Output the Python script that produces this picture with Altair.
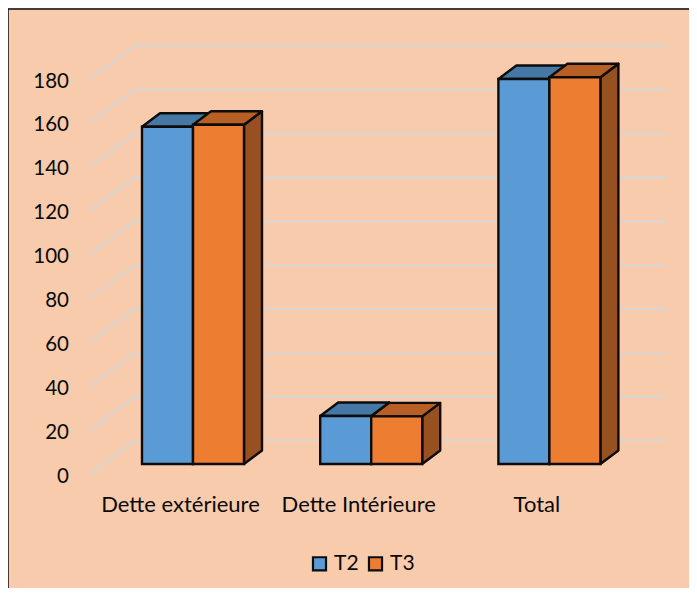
import altair as alt
import pandas as pd

categories = ["Dette extérieure", "Dette Intérieure", "Total"]
series = ["T2", "T3"]
t2_values = [153.7, 21.9, 175.5]
t3_values = [154.6, 21.7, 176.3]
grid_values = list(range(0, 181, 20))

# plot size and scale calibration (pixels per data unit)
W, H = 681, 579
ORIGIN_X, ORIGIN_Y = 8, 9          # page position of plot corner
CAT0_PX, CAT_STEP = 180.0, 178.2   # page x of first category, px per category
ZERO_PY, PX_PER_UNIT = 474.0, 2.194

xdom = [(ORIGIN_X - CAT0_PX) / CAT_STEP, (ORIGIN_X + W - CAT0_PX) / CAT_STEP]
ydom = [(ZERO_PY - (ORIGIN_Y + H)) / PX_PER_UNIT, (ZERO_PY - ORIGIN_Y) / PX_PER_UNIT]
x_scale = alt.Scale(domain=xdom, nice=False, zero=False)
y_scale = alt.Scale(domain=ydom, nice=False, zero=False)

# pseudo-3D projection expressed in data units
BAR_W = 51.0 / CAT_STEP
PLANE_DX, PLANE_DY = 13.0 / CAT_STEP, 10.0 / PX_PER_UNIT
DEPTH_DX, DEPTH_DY = 18.0 / CAT_STEP, 13.5 / PX_PER_UNIT
WALL_DX, WALL_DY = 45.0 / CAT_STEP, 33.5 / PX_PER_UNIT
AXIS_X = (90.0 - CAT0_PX) / CAT_STEP
WALL_END = (668.0 - CAT0_PX) / CAT_STEP

BLUE, ORANGE = "#5B9BD5", "#ED7D31"
TOP = {"T2": "#4578A5", "T3": "#B75F24"}
SIDE = {"T2": "#3F6F9A", "T3": "#97501F"}
EDGE = "#0c0c0c"
TEXT = "#0a0a0a"
FONT = "Lato"
PEACH = "#F8CBAD"
BAR_STROKE = 2.4

front, tops, sides, grid = [], [], [], []
for si, (s, vals) in enumerate(zip(series, [t2_values, t3_values])):
    for ci, v in enumerate(vals):
        x0 = ci + PLANE_DX + (si - 1) * BAR_W
        x1 = x0 + BAR_W
        y0 = PLANE_DY
        y1 = PLANE_DY + v
        front.append(dict(series=s, x0=x0, x1=x1, y0=y0, y1=y1))
        tops.append(dict(series=s, cat=ci, y=y1, xa=x0, xb=x1))
        tops.append(dict(series=s, cat=ci, y=y1 + DEPTH_DY, xa=x0 + DEPTH_DX, xb=x1 + DEPTH_DX))
        sides.append(dict(series=s, cat=ci, x=x1, ya=y0, yb=y1))
        sides.append(dict(series=s, cat=ci, x=x1 + DEPTH_DX, ya=y0 + DEPTH_DY, yb=y1 + DEPTH_DY))
for g in grid_values:
    grid.append(dict(g=g, o=0, x=AXIS_X, y=g))
    grid.append(dict(g=g, o=1, x=AXIS_X + WALL_DX, y=g + WALL_DY))
    grid.append(dict(g=g, o=2, x=WALL_END, y=g + WALL_DY))

front, tops, sides, grid = map(pd.DataFrame, (front, tops, sides, grid))

x_axis = alt.Axis(
    values=[0, 1, 2], title=None, ticks=False, domain=False, grid=False,
    labelExpr="[" + ",".join(f"'{c}'" for c in categories) + "][datum.value]",
    labelFont=FONT, labelFontSize=22, labelColor=TEXT, labelPadding=0,
    offset=-(ORIGIN_Y + H - 494), labelFlush=False, labelOverlap=False, labelLimit=300,
)
y_axis = alt.Axis(
    values=grid_values, title=None, ticks=False, domain=False, grid=False,
    labelFont=FONT, labelFontSize=20.5, labelColor=TEXT, labelPadding=0, labelOffset=2,
    offset=-(68.5 - ORIGIN_X), labelFlush=False, labelOverlap=False,
)
X = lambda f: alt.X(f, scale=x_scale, axis=x_axis, title=None)
Y = lambda f: alt.Y(f, scale=y_scale, axis=y_axis, title=None)

grid_layer = alt.Chart(grid).mark_line(color="#D9D5D2", strokeWidth=2.2).encode(
    x=X("x:Q"), y=Y("y:Q"), detail="g:N", order="o:Q",
)

# frame: only the top and left edges are inside the picture
frame_top = alt.Chart(pd.DataFrame({"a": [0]})).mark_rule(color=EDGE, strokeWidth=1.5).encode(
    x=alt.value(0), x2=alt.value(W), y=alt.value(0)
)
frame_left = alt.Chart(pd.DataFrame({"a": [0]})).mark_rule(color=EDGE, strokeWidth=1.5).encode(
    x=alt.value(0), y=alt.value(0), y2=alt.value(H)
)

layers = [grid_layer, frame_top, frame_left]
for s in series[::-1]:
    layers.append(
        alt.Chart(sides[sides.series == s]).mark_area(
            color=SIDE[s], stroke=EDGE, strokeWidth=BAR_STROKE, orient="vertical", strokeJoin="round"
        ).encode(x=X("x:Q"), y=Y("ya:Q"), y2="yb:Q", detail="cat:N")
    )
for s in series:
    layers.append(
        alt.Chart(tops[tops.series == s]).mark_area(
            color=TOP[s], stroke=EDGE, strokeWidth=BAR_STROKE, orient="horizontal", strokeJoin="round"
        ).encode(y=Y("y:Q"), x=X("xa:Q"), x2="xb:Q", detail="cat:N")
    )
layers.append(
    alt.Chart(front).mark_rect(stroke=EDGE, strokeWidth=BAR_STROKE).encode(
        x=X("x0:Q"), x2="x1:Q", y=Y("y0:Q"), y2="y1:Q",
        color=alt.Color(
            "series:N",
            scale=alt.Scale(domain=series, range=[BLUE, ORANGE]),
            legend=alt.Legend(
                title=None, orient="none", legendX=309 - ORIGIN_X, legendY=553 - ORIGIN_Y,
                direction="horizontal", symbolType="square", symbolSize=170,
                symbolStrokeColor=EDGE, symbolStrokeWidth=2.2, symbolOpacity=1,
                labelFont=FONT, labelFontSize=21, labelColor=TEXT,
                labelOffset=4, columnPadding=5, symbolOffset=0,
            ),
        ),
    )
)

chart = (
    alt.layer(*layers)
    .resolve_scale(x="shared", y="shared")
    .properties(
        width=W, height=H,
        autosize=alt.AutoSizeParams(type="none"),
        padding={"left": 0, "top": 1, "right": 0, "bottom": 0},
        background=PEACH,
    )
    .configure_view(fill=PEACH, stroke=None)
)
chart.save("out.html", embed_options={"renderer": "svg", "actions": False})
